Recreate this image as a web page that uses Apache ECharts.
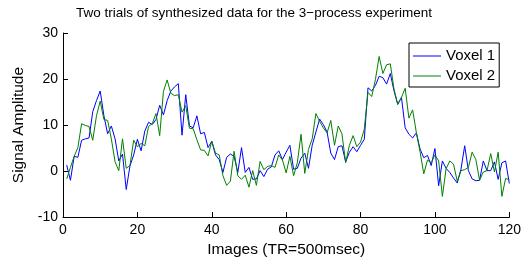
<!DOCTYPE html>
<html>
<head>
<meta charset="utf-8">
<script src="https://cdn.jsdelivr.net/npm/echarts@6/dist/echarts.min.js"></script>
<style>
  html, body { margin: 0; padding: 0; background: #fff; }
  #chart { width: 524px; height: 263px; }
</style>
</head>
<body>
<div id="chart"></div>
<script>
// signal values per image (images 1..120)
const voxel1 = [
  1.3, -2, 3.2, 3, 6.7, 7, 7.2, 12.9, 15.3, 17.4,
  12, 8.1, 9.8, 7, 2.2, 3.7, -4, 1.1, 3.5, 6.9,
  4.4, 8.7, 10.6, 10.1, 11.2, 14.3, 12.2, 15.3, 17.4, 18.3,
  19, 7.8, 16.6, 9.8, 9.4, 12, 8.1, 8.4, 5.1, 6.5,
  3.5, 2.5, -0.3, 3, 3.7, 3.2, -0.3, 5.1, -0.3, 0.8,
  -1.8, -1.7, 0.1, -1.2, 0.4, 0.9, 3.5, 4.4, 2.5, 4.1,
  5.6, 0.4, 0.6, 2.8, 3.9, 0.6, 5.6, 8.5, 11.3, 10.1,
  8.5, 3.9, 2.5, 5.3, 5.5, 2, 4.1, 5.3, 4.2, 5.6,
  6.9, 18.1, 17.4, 18.6, 20.6, 20.3, 18.9, 21.2, 17.4, 14.5,
  16, 9.4, 8, 7.2, 8.3, 4.8, 2.9, 3.4, 1.2, 4.9,
  -3.2, 2.2, 0.6, -0.3, -1.5, -2.6, 0.4, 5.5, 0.1, -1.7,
  -2.1, -2, 2.2, 0.1, 0.1, 2, -1.8, 1.8, 2.2, -2.7
];
const voxel2 = [
  -1.7, 0.8, 3.2, 5.1, 10.3, 9.9, 9.7, 6.7, 12, 15.2,
  11.2, 11, 7, 2, 0.1, 7, 0.6, 1.2, 6.7, 5.3,
  6, 5.5, 9.7, 10.3, 12.5, 7.7, 17.3, 19.8, 16.9, 16.4,
  16.6, 12.8, 14.2, 9.3, 9.2, 6.8, 4.6, 4.5, 3.3, 6.5,
  3.9, 3.5, -1, -3.1, -2.2, 4.3, -1, -1.8, -0.9, -3.5,
  0.1, -3.1, 2.1, 0.3, 1, 1.2, 0.8, 3.5, 2.4, -0.4,
  3.2, -1, 1.8, 8, -0.5, 4.7, 7, 12.5, 10.8, 9.4,
  8.3, 11, 5.6, 9.8, 8.1, 1.8, 5.6, 7.7, 5.3, 6.3,
  9.1, 17.1, 16.2, 19.9, 24.9, 21.2, 23.1, 23.3, 17.8, 14.5,
  16, 18, 11.5, 13.3, 8.4, 4.2, -0.6, 2.4, 1.8, 3.5,
  2.2, -5.5, 0.5, 2.2, 1.5, -2.2, 0.1, 0.3, 0.8, 4.1,
  2.5, -2, -0.2, 0.1, 3.8, -0.2, 4.1, -5.5, -1.6, -1.9
];
const seriesNames = ["Voxel 1", "Voxel 2"];
const xTicks = [0, 20, 40, 60, 80, 100, 120];
const yTicks = [-10, 0, 10, 20, 30];

const font = "'Liberation Sans', Arial, Helvetica, sans-serif";

function toPoints(values) {
  return values.map(function (v, i) { return [i + 1, v]; });
}

const chart = echarts.init(document.getElementById("chart"));

chart.setOption({
  animation: false,
  backgroundColor: "#fff",
  title: {
    text: "Two trials of synthesized data for the 3\u2212process experiment",
    left: 249,
    textAlign: "center",
    top: 1,
    textStyle: { fontFamily: font, fontSize: 13.5, fontWeight: "normal", color: "#000" },
  },
  legend: {
    orient: "vertical",
    left: 409,
    top: 43,
    padding: [5, 4, 3, 4],
    icon: "rect",
    itemWidth: 28,
    itemHeight: 1,
    itemGap: 4,
    borderColor: "#000",
    borderWidth: 1,
    backgroundColor: "#fff",
    data: seriesNames,
    textStyle: { fontFamily: font, fontSize: 15, lineHeight: 16, color: "#000" },
  },
  grid: {
    left: 63,
    right: 13,
    top: 33,
    bottom: 38,
  },
  xAxis: {
    type: "value",
    min: xTicks[0],
    max: xTicks[xTicks.length - 1],
    interval: 20,
    name: "Images (TR=500msec)",
    nameLocation: "middle",
    nameGap: 22,
    nameTextStyle: { fontFamily: font, fontSize: 15.5, color: "#000" },
    axisLine: { onZero: false, lineStyle: { color: "#000", width: 1 } },
    axisTick: { inside: true, length: 5, lineStyle: { color: "#000" } },
    axisLabel: { fontFamily: font, fontSize: 14, color: "#000", margin: 6 },
    splitLine: { show: false },
  },
  yAxis: {
    type: "value",
    min: yTicks[0],
    max: yTicks[yTicks.length - 1],
    interval: 10,
    name: "Signal Amplitude",
    nameLocation: "middle",
    nameGap: 29,
    nameTextStyle: { fontFamily: font, fontSize: 15.5, color: "#000" },
    axisLine: { show: true, onZero: false, lineStyle: { color: "#000", width: 1 } },
    axisTick: { show: true, inside: true, length: 5, lineStyle: { color: "#000" } },
    axisLabel: { fontFamily: font, fontSize: 14, color: "#000", margin: 5 },
    splitLine: { show: false },
  },
  series: [
    {
      name: seriesNames[0],
      type: "line",
      data: toPoints(voxel1),
      symbol: "none",
      lineStyle: { color: "#0000ff", width: 1 },
      itemStyle: { color: "#0000ff" },
    },
    {
      name: seriesNames[1],
      type: "line",
      data: toPoints(voxel2),
      symbol: "none",
      lineStyle: { color: "#008000", width: 1 },
      itemStyle: { color: "#008000" },
    },
  ],
});
</script>
</body>
</html>
